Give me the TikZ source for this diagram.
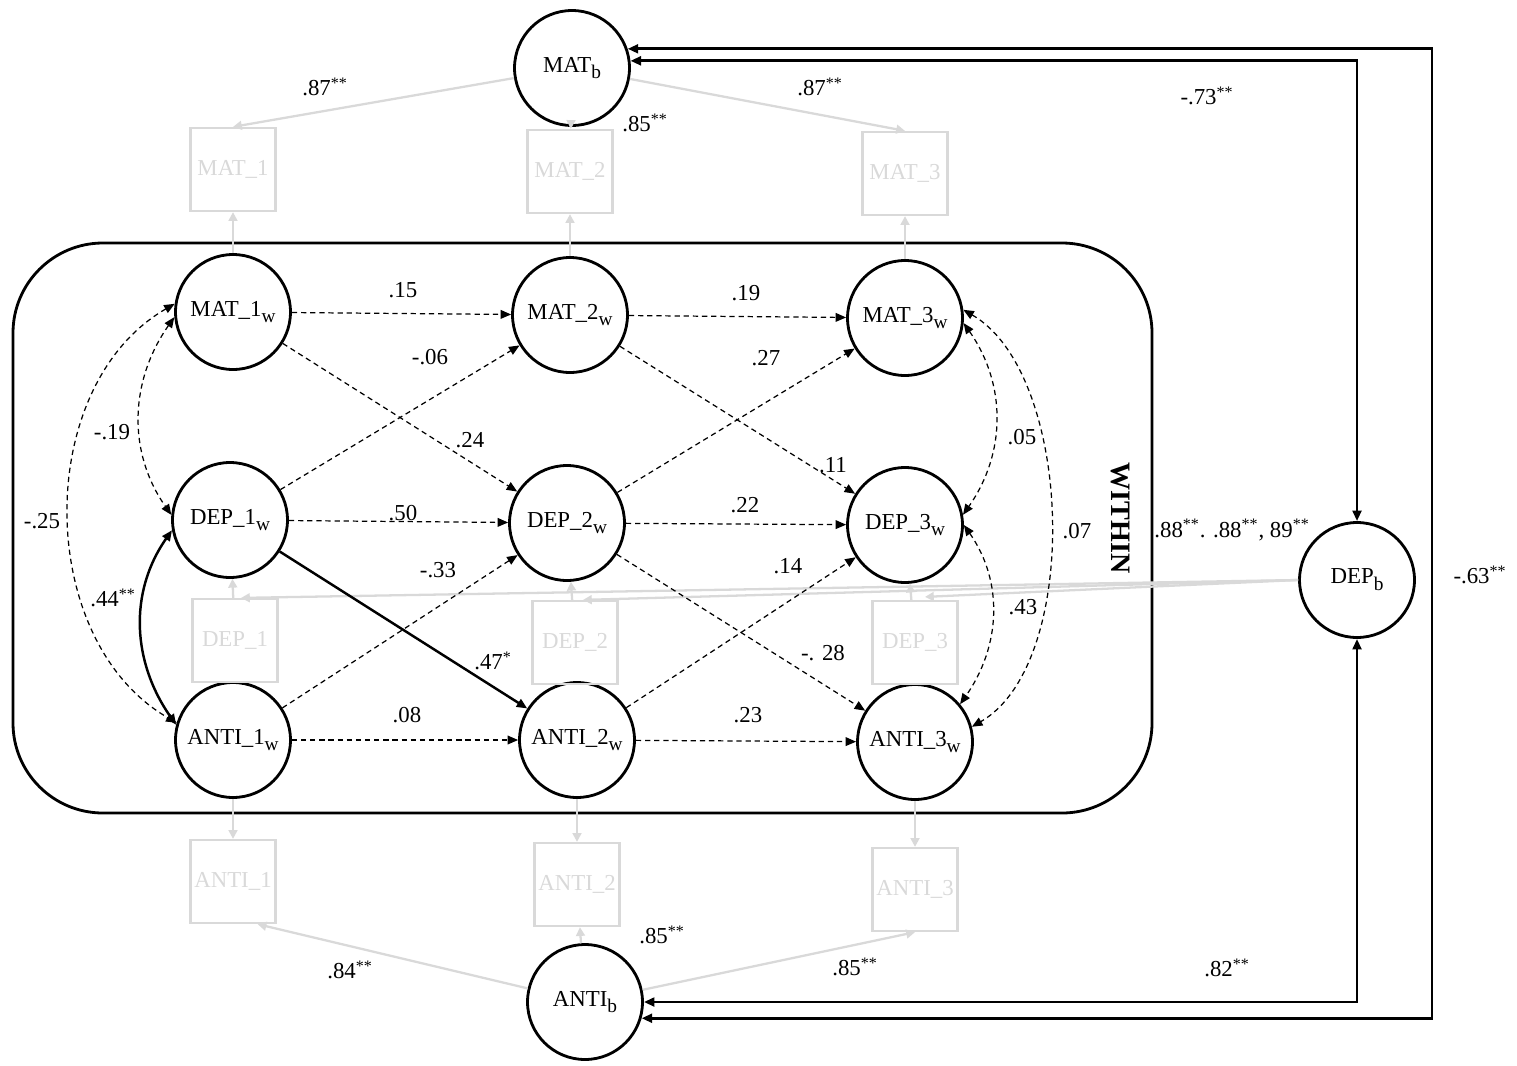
\documentclass[tikz,border=0pt]{standalone}
\usepackage{fontspec}
\setmainfont{Liberation Serif}
\usetikzlibrary{arrows.meta,positioning,calc}
\newcommand{\lowsub}[1]{\raisebox{-0.3em}{\fontsize{11}{12}\selectfont #1}}

\begin{document}
\begin{tikzpicture}[x=0.02cm, y=-0.02cm,
	every node/.style={font=\fontsize{13}{15}\selectfont},
	latent/.style={draw, circle, line width=1.6pt, minimum size=2.3cm, inner sep=0pt},
	indic/.style={draw=gray!30, line width=1.3pt, text=gray!30, minimum width=1.7cm, minimum height=1.66cm, inner sep=0pt},
	loading/.style={draw=gray!30, line width=1.3pt, -{Triangle[length=5pt,width=5pt]}},
	regpath/.style={line width=0.7pt, dash pattern=on 3pt off 2.2pt, -{Triangle[length=6pt,width=5pt]}},
	covpath/.style={line width=0.7pt, dash pattern=on 3pt off 2.2pt, {Triangle[length=6pt,width=5pt]}-{Triangle[length=6pt,width=5pt]}},
	bcovpath/.style={line width=1.6pt, {Triangle[length=6pt,width=5pt]}-{Triangle[length=6pt,width=5pt]}}]
	\useasboundingbox (0,0) rectangle (1517,1065);
	
	% within box
	\draw[line width=1.6pt, rounded corners=1.8cm] (13,243) rectangle (1152,813);
	\node[rotate=-90, font=\fontsize{16}{18}\selectfont\bfseries] (within) at (1120,518) {WITHIN};
	
	% latent variables
	\node[latent] (mb) at (572,68) {MAT\lowsub{b}};
	\node[latent] (m1) at (233,312) {MAT\_1\lowsub{w}};
	\node[latent] (m2) at (570,315) {MAT\_2\lowsub{w}};
	\node[latent] (m3) at (905,318) {MAT\_3\lowsub{w}};
	\node[latent] (d1) at (230,520) {DEP\_1\lowsub{w}};
	\node[latent] (d2) at (567,523) {DEP\_2\lowsub{w}};
	\node[latent] (d3) at (905,525) {DEP\_3\lowsub{w}};
	\node[latent] (a1) at (233,740) {ANTI\_1\lowsub{w}};
	\node[latent] (a2) at (577,740) {ANTI\_2\lowsub{w}};
	\node[latent] (a3) at (915,742) {ANTI\_3\lowsub{w}};
	\node[latent] (ab) at (585,1002) {ANTI\lowsub{b}};
	\node[latent] (db) at (1357,580) {DEP\lowsub{b}};
	
	% indicators
	\node[indic, above=0.82cm of m1] (mi1) {MAT\_1};
	\node[indic, above=0.84cm of m2] (mi2) {MAT\_2};
	\node[indic, above=0.86cm of m3] (mi3) {MAT\_3};
	\node[indic, below=0.38cm of d1, xshift=0.1cm] (di1) {DEP\_1};
	\node[indic, below=0.36cm of d2, xshift=0.16cm] (di2) {DEP\_2};
	\node[indic, below=0.32cm of d3, xshift=0.2cm] (di3) {DEP\_3};
	\node[indic, below=0.8cm of a1] (ai1) {ANTI\_1};
	\node[indic, below=0.86cm of a2] (ai2) {ANTI\_2};
	\node[indic, below=0.92cm of a3] (ai3) {ANTI\_3};
	
	% loadings
	\draw[loading] (mb) -- (mi1.north);
	\draw[loading] (mb) -- (mi2);
	\draw[loading] (mb) -- (mi3.north);
	\draw[loading] (m1) -- (mi1);
	\draw[loading] (m2) -- (mi2);
	\draw[loading] (m3) -- (mi3);
	\draw[loading] (di1) -- (d1);
	\draw[loading] (di2) -- (d2);
	\draw[loading] (di3) -- (d3);
	\draw[loading] (db.west) -- ($(di1.north)+(6,0)$);
	\draw[loading] (db.west) -- ($(di2.north)+(8,0)$);
	\draw[loading] (db.west) -- ($(di3.north)+(10,-3)$);
	\draw[loading] (a1) -- (ai1);
	\draw[loading] (a2) -- (ai2);
	\draw[loading] (a3) -- (ai3);
	\draw[loading] (ab) -- (ai1.-60);
	\draw[loading] (ab) -- (ai2);
	\draw[loading] (ab) -- (ai3.south);
	
	% lagged paths
	\draw[regpath] (m1) -- (m2);
	\draw[regpath] (m2) -- (m3);
	\draw[regpath] (d1) -- (d2);
	\draw[regpath] (d2) -- (d3);
	\draw[regpath] (a1) -- (a2);
	\draw[regpath] (a2) -- (a3);
	\draw[regpath] (m1) -- (d2);
	\draw[regpath] (d1) -- (m2);
	\draw[regpath] (a1) -- (d2);
	\draw[line width=1.4pt, -{Triangle[length=6pt,width=5pt]}] (d1) -- (a2);
	\draw[regpath] (m2) -- (d3);
	\draw[regpath] (d2) -- (m3);
	\draw[regpath] (d2) -- (a3);
	\draw[regpath] (a2) -- (d3);
	
	% covariances within
	\draw[covpath] (m1.185) to[out=235, in=125] (d1.175);
	\draw[covpath] (m1.172) to[out=210, in=150, looseness=1.0] (a1.163);
	\draw[bcovpath, line width=1.4pt] (d1.190) to[out=235, in=125] (a1.165);
	\draw[covpath] (m3.-5) to[out=-55, in=55] (d3.10);
	\draw[covpath] (m3.8) to[out=-30, in=30, looseness=0.78] (a3.15);
	\draw[covpath] (d3.0) to[out=-55, in=55] (a3.40);
	
	% covariances between
	\coordinate (farright) at (1432,540);
	\draw[bcovpath] (mb.7) -| (db.north);
	\draw[bcovpath] (mb.19) -| (farright) |- (ab.-16);
	\draw[bcovpath] (ab.east) -| (db.south);
	
	% labels
	\node (lmb1) at (325,87) {.87\textsuperscript{**}};
	\node (lmb2) at (645,123) {.85\textsuperscript{**}};
	\node (lmb3) at (820,87) {.87\textsuperscript{**}};
	\node (lmbdb) at (1207,96) {-.73\textsuperscript{**}};
	\node (lm1m2) at (403,290) {.15};
	\node (lm2m3) at (746,293) {.19};
	\node (ld1m2) at (430,357) {-.06};
	\node (ld2m3) at (766,358) {.27};
	\node (lm1d1) at (112,432) {-.19};
	\node (lm1d2) at (470,440) {.24};
	\node (lm2d3) at (833,465) {.11};
	\node (lm3d3) at (1022,437) {.05};
	\node (lm1a1) at (42,521) {-.25};
	\node (ld1d2) at (403,513) {.50};
	\node (ld2d3) at (745,505) {.22};
	\node (lm3a3) at (1077,531) {.07};
	\node (la1d2) at (438,570) {-.33};
	\node (la2d3) at (788,566) {.14};
	\node (ld1a1) at (113,598) {.44\textsuperscript{**}};
	\node (ld3a3) at (1023,607) {.43};
	\node (ld1a2) at (493,661) {.47\textsuperscript{*}};
	\node (ld2a3) at (823,653) {-. 28};
	\node (la1a2) at (407,715) {.08};
	\node (la2a3) at (748,715) {.23};
	\node (ldb) at (1232,530) {.88\textsuperscript{**}. .88\textsuperscript{**}, 89\textsuperscript{**}};
	\node (lmbab) at (1480,575) {-.63\textsuperscript{**}};
	\node (lab2) at (662,935) {.85\textsuperscript{**}};
	\node (lab1) at (350,970) {.84\textsuperscript{**}};
	\node (lab3) at (855,967) {.85\textsuperscript{**}};
	\node (labdb) at (1227,968) {.82\textsuperscript{**}};
	
\end{tikzpicture}
\end{document}
